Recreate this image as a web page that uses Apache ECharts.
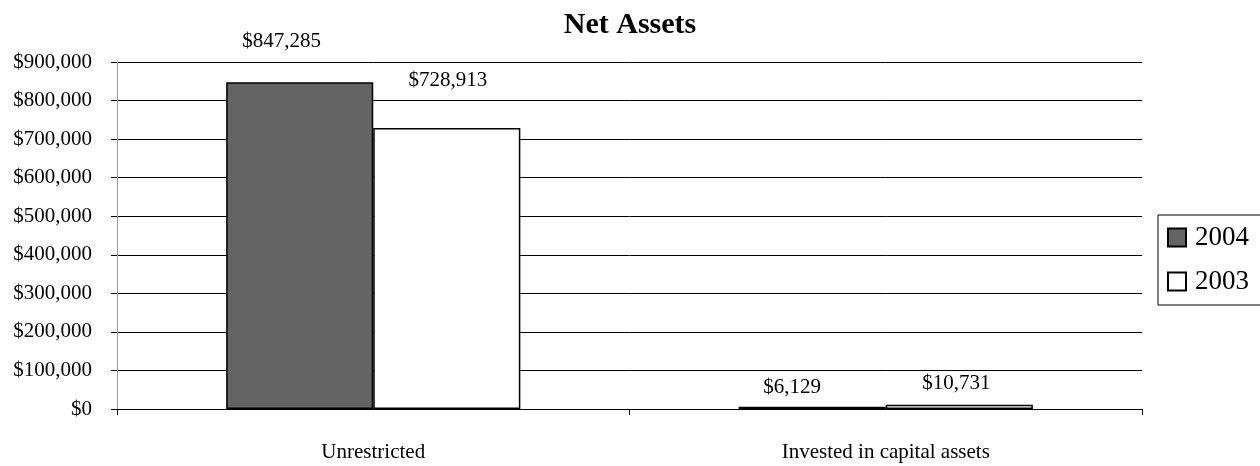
<!DOCTYPE html>
<html><head><meta charset="utf-8">
<script src="https://cdn.jsdelivr.net/npm/echarts@6/dist/echarts.min.js"></script>
<style>html,body{margin:0;padding:0;background:#fff}#c{width:1260px;height:466px}</style>
</head><body><div id="c"></div>
<script>
const categories = ['Unrestricted', 'Invested in capital assets'];
const seriesNames = ['2004', '2003'];
const values2004 = [847285, 6129];
const values2003 = [728913, 10731];
const yTicks = [0, 100000, 200000, 300000, 400000, 500000, 600000, 700000, 800000, 900000];

// label style tweaks (distance above bar, horizontal offset)
const labelStyle2004 = [{d: 30, dx: -18}, {d: 9, dx: -20}];
const labelStyle2003 = [{d: 37, dx: 1}, {d: 11, dx: -3}];

const fmt = v => '$' + v.toLocaleString('en-US');
const F = '"Liberation Serif", "Times New Roman", serif';

function build(vals, styles) {
  return vals.map((v, i) => ({
    value: v,
    label: {distance: styles[i].d, offset: [styles[i].dx, 0]}
  }));
}

const chart = echarts.init(document.getElementById('c'));
chart.setOption({
  animation: false,
  backgroundColor: '#fff',
  title: {text: 'Net Assets', left: 'center', top: 5,
    textStyle: {fontFamily: F, fontWeight: 'bold', fontSize: 30, color: '#000'}},
  legend: {
    orient: 'vertical', left: 1158, top: 215, data: seriesNames,
    itemWidth: 18, itemHeight: 18, itemGap: 17, icon: 'rect',
    borderColor: '#000', borderWidth: 1, padding: [9, 60, 10, 9],
    textStyle: {fontFamily: F, fontSize: 27, lineHeight: 27, color: '#000', padding: [0, 0, 0, 4]}
  },
  grid: {left: 117, right: 118, top: 62, bottom: 57},
  xAxis: {
    type: 'category', data: categories,
    axisLine: {lineStyle: {color: '#000', width: 1}},
    axisTick: {show: true, length: 6, lineStyle: {color: '#000'}},
    axisLabel: {fontFamily: F, fontSize: 21, color: '#000', margin: 33}
  },
  yAxis: {
    type: 'value', min: 0, max: 900000, interval: 100000,
    axisLine: {show: true, lineStyle: {color: '#999'}},
    axisTick: {show: true, length: 6, lineStyle: {color: '#000'}},
    splitLine: {lineStyle: {color: '#000', width: 1}},
    axisLabel: {fontFamily: F, fontSize: 21, color: '#000', margin: 25,
      formatter: v => yTicks.includes(v) ? fmt(v) : ''}
  },
  series: [
    {name: seriesNames[0], type: 'bar', data: build(values2004, labelStyle2004),
      barGap: '0%', barCategoryGap: '42.6%',
      itemStyle: {color: '#646464', borderColor: '#000', borderWidth: 1.5},
      label: {show: true, position: 'top', formatter: p => fmt(p.value),
        fontFamily: F, fontSize: 21, color: '#000'}},
    {name: seriesNames[1], type: 'bar', data: build(values2003, labelStyle2003),
      barGap: '0%', barCategoryGap: '42.6%',
      itemStyle: {color: '#fff', borderColor: '#000', borderWidth: 1.5},
      label: {show: true, position: 'top', formatter: p => fmt(p.value),
        fontFamily: F, fontSize: 21, color: '#000'}}
  ]
});
</script></body></html>
